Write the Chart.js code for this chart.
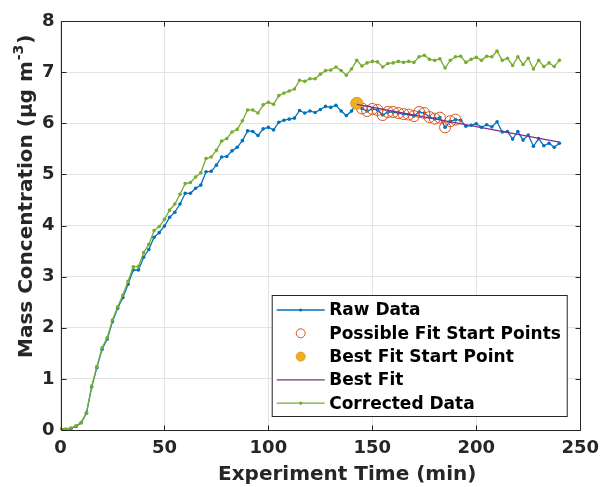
<!DOCTYPE html>
<html>
<head>
<meta charset="utf-8">
<script src="https://cdn.jsdelivr.net/npm/chart.js@4.4.1/dist/chart.umd.min.js"></script>
<style>
  html, body { margin: 0; padding: 0; background: #fff; }
  #wrap { width: 607px; height: 487px; }
</style>
</head>
<body>
<div id="wrap"><canvas id="c" width="607" height="487"></canvas></div>
<script>
// experiment time (min), one sample every 2.5 min
const times = [
  0, 2.5, 5, 7.5, 10, 12.5, 15, 17.5, 20, 22.5,
  25, 27.5, 30, 32.5, 35, 37.5, 40, 42.5, 45, 47.5,
  50, 52.5, 55, 57.5, 60, 62.5, 65, 67.5, 70, 72.5,
  75, 77.5, 80, 82.5, 85, 87.5, 90, 92.5, 95, 97.5,
  100, 102.5, 105, 107.5, 110, 112.5, 115, 117.5, 120, 122.5,
  125, 127.5, 130, 132.5, 135, 137.5, 140, 142.5, 145, 147.5,
  150, 152.5, 155, 157.5, 160, 162.5, 165, 167.5, 170, 172.5,
  175, 177.5, 180, 182.5, 185, 187.5, 190, 192.5, 195, 197.5,
  200, 202.5, 205, 207.5, 210, 212.5, 215, 217.5, 220, 222.5,
  225, 227.5, 230, 232.5, 235, 237.5, 240
];

const rawData = [
  0.02, 0.01, 0.03, 0.07, 0.14, 0.33, 0.84, 1.22, 1.58, 1.78,
  2.12, 2.38, 2.59, 2.85, 3.13, 3.13, 3.38, 3.53, 3.77, 3.86,
  3.99, 4.16, 4.26, 4.42, 4.63, 4.63, 4.73, 4.79, 5.05, 5.06,
  5.18, 5.34, 5.35, 5.46, 5.53, 5.66, 5.85, 5.84, 5.76, 5.89,
  5.92, 5.87, 6.02, 6.06, 6.08, 6.10, 6.25, 6.20, 6.24, 6.21,
  6.27, 6.33, 6.31, 6.35, 6.24, 6.15, 6.24, 6.39, 6.29, 6.24,
  6.28, 6.26, 6.16, 6.22, 6.22, 6.20, 6.18, 6.17, 6.14, 6.22,
  6.20, 6.12, 6.09, 6.11, 5.92, 6.04, 6.07, 6.06, 5.94, 5.96,
  5.99, 5.92, 5.97, 5.93, 6.03, 5.83, 5.84, 5.69, 5.84, 5.67,
  5.77, 5.55, 5.70, 5.56, 5.61, 5.53, 5.61
];

const correctedData = [
  0.03, 0.02, 0.04, 0.08, 0.15, 0.34, 0.86, 1.24, 1.61, 1.81,
  2.15, 2.41, 2.64, 2.91, 3.19, 3.20, 3.47, 3.63, 3.90, 3.98,
  4.12, 4.30, 4.42, 4.61, 4.82, 4.84, 4.95, 5.03, 5.31, 5.34,
  5.47, 5.65, 5.70, 5.83, 5.88, 6.05, 6.26, 6.26, 6.20, 6.36,
  6.41, 6.37, 6.54, 6.59, 6.63, 6.67, 6.84, 6.82, 6.87, 6.87,
  6.96, 7.03, 7.04, 7.10, 7.03, 6.94, 7.06, 7.23, 7.12, 7.18,
  7.21, 7.20, 7.10, 7.17, 7.18, 7.21, 7.19, 7.21, 7.19, 7.30,
  7.33, 7.25, 7.23, 7.26, 7.08, 7.23, 7.30, 7.31, 7.19, 7.25,
  7.29, 7.23, 7.31, 7.30, 7.41, 7.23, 7.27, 7.13, 7.30, 7.15,
  7.27, 7.06, 7.23, 7.11, 7.18, 7.11, 7.23
];

// indices of raw samples tried as fit start
const fitStartIdx = [57, 58, 59, 60, 61, 62, 63, 64, 65, 66, 67, 68, 69, 70, 71, 72, 73, 74, 75, 76];
const bestStartIdx = 57;

const bestFitTimes = [142.5, 240];
const bestFitValues = [6.37, 5.63];

const xTicks = [0, 50, 100, 150, 200, 250];
const yTicks = [0, 1, 2, 3, 4, 5, 6, 7, 8];

const xTitle = 'Experiment Time (min)';
const yTitle = ['Mass Concentration (\u03bcg m', '-3', ')'];

const FONT = "'DejaVu Sans', sans-serif";
const AXIS = '#262626';

const pts = (xs, ys) => xs.map((x, i) => ({ x, y: ys[i] }));

// legend inside the axes, bottom right, like MATLAB
const boxLegend = {
  id: 'boxLegend',
  afterDraw(chart) {
    const ctx = chart.ctx, a = chart.chartArea;
    const w = 295, h = 121;
    const x0 = a.right - 13.5 - w, y0 = a.bottom - 14 - h;
    ctx.save();
    ctx.fillStyle = '#fff';
    ctx.fillRect(x0, y0, w, h);
    ctx.strokeStyle = AXIS; ctx.lineWidth = 1;
    ctx.strokeRect(x0 + 0.5, y0 + 0.5, w, h);
    chart.data.datasets.forEach((ds, row) => {
      const cy = y0 + 15 + row * 23.3;
      const sx = x0 + 5, ex = x0 + 53, mx = (sx + ex) / 2;
      if (ds.showLine) {
        ctx.strokeStyle = ds.borderColor; ctx.lineWidth = ds.borderWidth;
        ctx.beginPath(); ctx.moveTo(sx, cy); ctx.lineTo(ex, cy); ctx.stroke();
      }
      if (ds.pointRadius > 0) {
        const r = Math.min(ds.pointRadius, 4.5);
        ctx.beginPath(); ctx.arc(mx, cy, ds.showLine ? 1.6 : r, 0, Math.PI * 2);
        if (ds.pointBackgroundColor !== 'rgba(0,0,0,0)') { ctx.fillStyle = ds.pointBackgroundColor; ctx.fill(); }
        if (!ds.showLine) { ctx.strokeStyle = ds.pointBorderColor; ctx.lineWidth = 1; ctx.stroke(); }
      }
      ctx.fillStyle = '#000';
      ctx.font = 'bold 17px ' + FONT;
      ctx.textBaseline = 'middle';
      ctx.textAlign = 'left';
      ctx.fillText(ds.label, x0 + 57.5, cy + 1);
    });
    ctx.restore();
  }
};

// box outline and inward tick marks on all four sides
const boxAxes = {
  id: 'boxAxes',
  afterDatasetsDraw(chart) {
    const ctx = chart.ctx, a = chart.chartArea;
    const xs = chart.scales.x, ys = chart.scales.y;
    const L = Math.round(a.left) + 0.5, R = Math.round(a.right) + 0.5;
    const T = Math.round(a.top) + 0.5, B = Math.round(a.bottom) + 0.5;
    ctx.save();
    ctx.strokeStyle = AXIS; ctx.lineWidth = 1;
    ctx.beginPath();
    ctx.moveTo(L, T); ctx.lineTo(R, T); ctx.lineTo(R, B); ctx.lineTo(L, B); ctx.closePath();
    xTicks.forEach(v => {
      const px = Math.round(xs.getPixelForValue(v)) + 0.5;
      ctx.moveTo(px, B); ctx.lineTo(px, B - 5);
      ctx.moveTo(px, T); ctx.lineTo(px, T + 5);
    });
    yTicks.forEach(v => {
      const py = Math.round(ys.getPixelForValue(v)) + 0.5;
      ctx.moveTo(L, py); ctx.lineTo(L + 5, py);
      ctx.moveTo(R, py); ctx.lineTo(R - 5, py);
    });
    ctx.stroke();
    ctx.restore();
  }
};

// axis titles, placed where the original figure has them (with the superscript)
const axisTitles = {
  id: 'axisTitles',
  afterDraw(chart) {
    const ctx = chart.ctx;
    ctx.save();
    ctx.fillStyle = AXIS;
    ctx.textBaseline = 'middle';
    ctx.textAlign = 'left';
    ctx.font = 'bold 20px ' + FONT;
    ctx.fillText(xTitle, 218, 475);

    ctx.translate(27, 358);
    ctx.rotate(-Math.PI / 2);
    let x = 0;
    ctx.font = 'bold 20px ' + FONT;
    ctx.fillText(yTitle[0], x, 0);
    x += ctx.measureText(yTitle[0]).width + 1;
    ctx.font = 'bold 14px ' + FONT;
    ctx.fillText(yTitle[1], x, -8);
    x += ctx.measureText(yTitle[1]).width + 1;
    ctx.font = 'bold 20px ' + FONT;
    ctx.fillText(yTitle[2], x, 0);
    ctx.restore();
  }
};

new Chart(document.getElementById('c'), {
  type: 'scatter',
  data: {
    datasets: [
      {
        label: 'Raw Data',
        data: pts(times, rawData),
        showLine: true, borderColor: '#0072BD', borderWidth: 1.3,
        pointRadius: 1.8, pointBackgroundColor: '#0072BD', pointBorderColor: '#0072BD', pointBorderWidth: 0,
        order: 5
      },
      {
        label: 'Possible Fit Start Points',
        data: fitStartIdx.map(i => ({ x: times[i], y: rawData[i] })),
        showLine: false, borderColor: '#D95319',
        pointRadius: 5.5, pointBackgroundColor: 'rgba(0,0,0,0)', pointBorderColor: '#D95319', pointBorderWidth: 1,
        order: 4
      },
      {
        label: 'Best Fit Start Point',
        data: [{ x: times[bestStartIdx], y: rawData[bestStartIdx] }],
        showLine: false, borderColor: '#EDB120',
        pointRadius: 6, pointBackgroundColor: '#EDB120', pointBorderColor: '#E39A2A', pointBorderWidth: 1,
        order: 3
      },
      {
        label: 'Best Fit',
        data: pts(bestFitTimes, bestFitValues),
        showLine: true, borderColor: '#7E2F8E', borderWidth: 1.2,
        pointRadius: 0,
        order: 2
      },
      {
        label: 'Corrected Data',
        data: pts(times, correctedData),
        showLine: true, borderColor: '#77AC30', borderWidth: 1.3,
        pointRadius: 1.8, pointBackgroundColor: '#77AC30', pointBorderColor: '#77AC30', pointBorderWidth: 0,
        order: 1
      }
    ]
  },
  options: {
    responsive: false,
    animation: false,
    layout: { padding: { left: 0, top: 21, right: 24, bottom: 0 } },
    plugins: { legend: { display: false }, tooltip: { enabled: false } },
    scales: {
      x: {
        type: 'linear', min: 0, max: 250,
        afterBuildTicks: s => { s.ticks = xTicks.map(v => ({ value: v })); },
        afterFit: s => { s.height = 57; },
        grid: { color: '#e3e3e3', drawTicks: false },
        border: { display: false },
        ticks: { color: '#262626', padding: 8, font: { family: FONT, size: 18, weight: 'bold' } },
        title: { display: false }
      },
      y: {
        type: 'linear', min: 0, max: 8,
        afterBuildTicks: s => { s.ticks = yTicks.map(v => ({ value: v })); },
        afterFit: s => { s.width = 60.5; },
        grid: { color: '#e3e3e3', drawTicks: false },
        border: { display: false },
        ticks: { color: '#262626', padding: 6, font: { family: FONT, size: 18, weight: 'bold' } },
        title: { display: false }
      }
    }
  },
  plugins: [boxAxes, boxLegend, axisTitles]
});
</script>
</body>
</html>
